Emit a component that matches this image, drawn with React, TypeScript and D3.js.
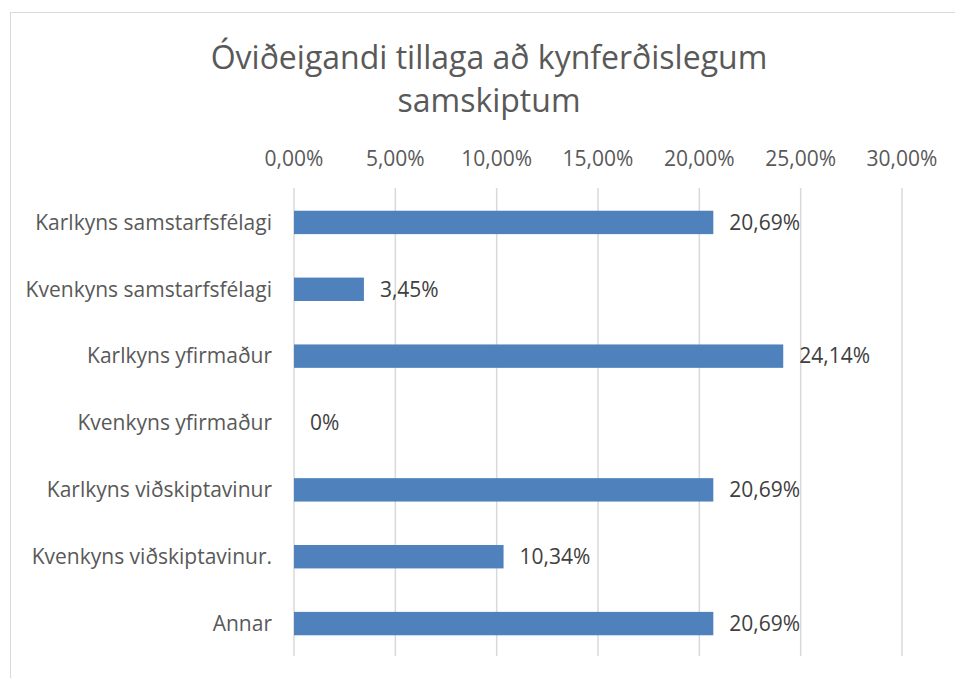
import React from "react";
import * as d3 from "d3";

const categories = [
  "Karlkyns samstarfsfélagi",
  "Kvenkyns samstarfsfélagi",
  "Karlkyns yfirmaður",
  "Kvenkyns yfirmaður",
  "Karlkyns viðskiptavinur",
  "Kvenkyns viðskiptavinur.",
  "Annar",
];
const values = [20.69, 3.45, 24.14, 0, 20.69, 10.34, 20.69];
const valueLabels = ["20,69%", "3,45%", "24,14%", "0%", "20,69%", "10,34%", "20,69%"];
const ticks = [0, 5, 10, 15, 20, 25, 30];
const tickLabels = ["0,00%", "5,00%", "10,00%", "15,00%", "20,00%", "25,00%", "30,00%"];
const titleLines = ["Óviðeigandi tillaga að kynferðislegum", "samskiptum"];

const W = 955;
const H = 678;
const FONT = "'Open Sans', sans-serif";

export default function App() {
  const x = d3.scaleLinear().domain([0, 30]).range([294, 902]);
  const y = d3
    .scaleBand<string>()
    .domain(categories)
    .range([189, 657])
    .paddingInner(0.65)
    .paddingOuter(0.325);

  return (
    <svg
      width={W}
      height={H}
      style={{ position: "absolute", left: 0, top: 0, background: "#fff" }}
      fontFamily={FONT}
    >
      <rect x={10.5} y={12.5} width={W + 20} height={H + 20} fill="#fff" stroke="#d9d9d9" strokeWidth={1} />
      {titleLines.map((t, i) => (
        <text key={t} x={489} y={69 + i * 43} textAnchor="middle" fontSize={32} fill="#595959">
          {t}
        </text>
      ))}
      {ticks.map((t, i) => (
        <g key={t}>
          <line x1={x(t)} x2={x(t)} y1={188} y2={656} stroke="#d9d9d9" strokeWidth={1.5} />
          <text x={x(t)} y={166} textAnchor="middle" fontSize={21} fill="#595959">
            {tickLabels[i]}
          </text>
        </g>
      ))}
      {categories.map((c, i) => {
        const yy = y(c)!;
        const bh = y.bandwidth();
        return (
          <g key={c}>
            <text x={272} y={yy + bh / 2} dy="0.35em" textAnchor="end" fontSize={21} fill="#595959">
              {c}
            </text>
            {values[i] > 0 && (
              <rect x={x(0)} y={yy} width={x(values[i]) - x(0)} height={bh} fill="#4f81bd" />
            )}
            <text x={x(values[i]) + 16} y={yy + bh / 2} dy="0.35em" fontSize={21} fill="#404040">
              {valueLabels[i]}
            </text>
          </g>
        );
      })}
    </svg>
  );
}
